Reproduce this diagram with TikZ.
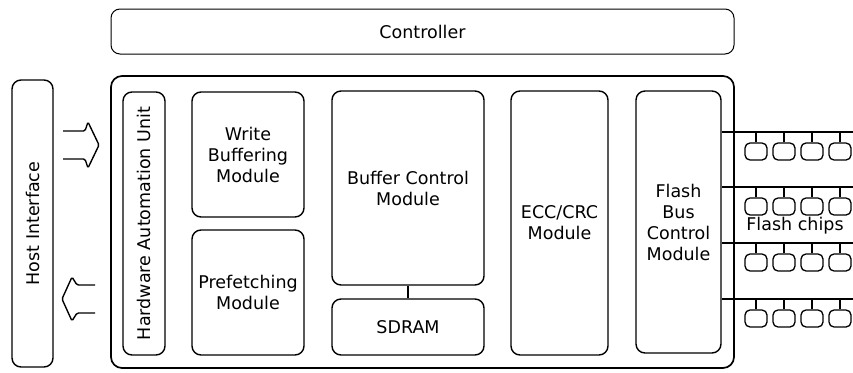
\documentclass[tikz,border=0pt]{standalone}
\usepackage{fontspec}
\setmainfont{DejaVu Sans}
\begin{document}
\begin{tikzpicture}[x=1pt,y=-1pt,
  every node/.style={font=\fontsize{17.5}{21}\selectfont},
  blk/.style={draw, line width=1.4pt, rounded corners=9pt, align=center, inner sep=0pt},
  chip/.style={draw, line width=1.3pt, rounded corners=5pt, minimum width=22pt, minimum height=17pt, inner sep=0pt},
  bus/.style={line width=1.3pt},
  blockarrow/.style={line width=1.4pt, rounded corners=1.5pt}]
\useasboundingbox (0,0) rectangle (853,372);
% controller
\node[blk, line width=1pt, minimum width=623pt, minimum height=45pt] (ctrl) at (422.5,31.5) {Controller};
% host interface
\node[blk, minimum width=41pt, minimum height=287pt] (host) at (32.5,223.5) {};
\node[rotate=90] (hostt) at (host.center) {Host Interface};
% main box
\node[blk, line width=1.7pt, rounded corners=11pt, minimum width=623pt, minimum height=292pt] (main) at (422.5,222) {};
% hardware automation unit
\node[blk, minimum width=42pt, minimum height=263pt] (hau) at (144,223.5) {};
\node[rotate=90] (haut) at (hau.center) {Hardware Automation Unit};
% modules
\node[blk, minimum width=112pt, minimum height=125pt] (wbm) at (248,154.5) {Write\\Buffering\\Module};
\node[blk, minimum width=112pt, minimum height=125pt] (pfm) at (248,292.5) {Prefetching\\Module};
\node[blk, minimum width=152pt, minimum height=194pt] (bcm) at (408,188) {Buffer Control\\Module};
\node[blk, minimum width=152pt, minimum height=56pt] (sdram) at (408,327) {SDRAM};
\node[blk, minimum width=97pt, minimum height=264pt] (ecc) at (559.5,223) {ECC/CRC\\Module};
\node[blk, minimum width=85pt, minimum height=262pt] (fbc) at (678.5,222) {Flash\\Bus\\Control\\Module};
\draw[bus] (bcm.south) -- (sdram.north);
% block arrows
\draw[blockarrow] (63,131) -- (85,131) -- (88,122) -- (99,145) -- (88,168) -- (85,159) -- (63,159);
\draw[blockarrow] (95,285) -- (77,285) -- (72,277) -- (62,299) -- (72,321) -- (77,313) -- (95,313);
% flash buses and chips
\foreach \i/\y in {1/132,2/187,3/243,4/299}{
  \coordinate (l\i) at (853,\y);
  \draw[bus] (fbc.east |- l\i) -- (l\i);
  \foreach \j/\x in {1/756,2/784,3/812,4/840}{
    \node[chip] (c\i\j) at (\x,\y+19.5) {};
    \draw[bus] (c\i\j.north) -- (c\i\j.north |- l\i);
  }
}
\node (fc) at (795,226) {Flash chips};
\end{tikzpicture}
\end{document}
